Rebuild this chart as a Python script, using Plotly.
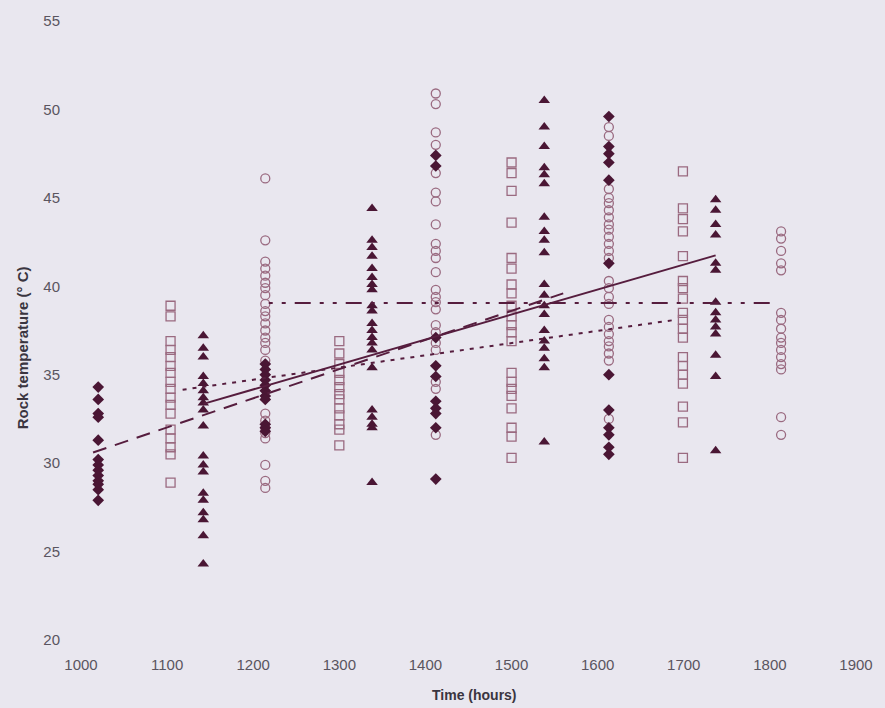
import plotly.graph_objects as go

# ---- data ----
diamond_times = [1020, 1214, 1412, 1613]
diamond_temps = [
    [34.3, 33.6, 32.8, 32.6, 31.3, 30.2, 29.9, 29.6, 29.3, 29.0, 28.8, 28.5, 27.9],
    [35.6, 35.3, 35.0, 34.7, 34.4, 34.1, 33.8, 33.6, 32.2, 32.0, 31.8],
    [47.4, 46.8, 37.1, 35.5, 34.9, 33.5, 33.1, 32.8, 32.0, 29.1],
    [49.6, 47.9, 47.5, 47.0, 46.0, 41.3, 35.0, 33.0, 32.0, 31.6, 30.9, 30.5],
]

square_times = [1104, 1300, 1500, 1699]
square_temps = [
    [38.9, 38.3, 36.9, 36.4, 36.0, 35.5, 35.1, 34.6, 34.2, 33.7, 33.3, 32.8, 31.9, 31.4, 30.9, 30.5, 28.9],
    [36.9, 36.2, 35.6, 35.1, 34.7, 34.3, 33.9, 33.6, 33.1, 32.7, 32.2, 31.9, 31.0],
    [47.0, 46.4, 45.4, 43.6, 41.6, 41.0, 40.1, 39.6, 38.9, 38.3, 37.8, 37.4, 36.9, 35.1, 34.6, 34.2, 33.8, 33.1, 32.0, 31.5, 30.3],
    [46.5, 44.4, 43.8, 43.1, 41.7, 40.3, 39.9, 39.3, 38.5, 38.1, 37.6, 37.1, 36.0, 35.5, 35.0, 34.5, 33.2, 32.3, 30.3],
]

triangle_times = [1142, 1338, 1538, 1737]
triangle_temps = [
    [37.2, 36.5, 36.0, 34.9, 34.5, 34.1, 33.7, 33.4, 33.0, 32.1, 30.4, 29.9, 29.5, 28.3, 27.9, 27.2, 26.8, 25.9, 24.3],
    [44.4, 42.6, 42.2, 41.7, 41.0, 40.5, 40.1, 39.8, 38.9, 38.6, 37.9, 37.5, 37.1, 36.8, 36.4, 35.4, 33.0, 32.6, 32.2, 32.0, 28.9],
    [50.5, 49.0, 47.9, 46.7, 46.3, 45.8, 43.9, 43.1, 42.6, 41.9, 40.1, 39.5, 38.9, 38.4, 37.5, 36.9, 36.5, 35.9, 35.4, 31.2],
    [44.9, 44.3, 43.5, 42.9, 41.3, 40.9, 39.1, 38.5, 38.1, 37.7, 37.3, 36.1, 34.9, 30.7],
]

circle_times = [1214, 1412, 1613, 1813]
circle_temps = [
    [46.1, 42.6, 41.4, 41.0, 40.6, 40.2, 39.9, 39.5, 39.0, 38.6, 38.3, 37.9, 37.5, 37.1, 36.8, 36.4, 35.8, 32.8, 32.4, 32.0, 31.7, 31.4, 29.9, 29.0, 28.6],
    [50.9, 50.3, 48.7, 48.0, 46.4, 45.3, 44.8, 43.5, 42.4, 42.0, 41.6, 40.8, 39.8, 39.4, 39.1, 38.7, 37.8, 37.4, 36.8, 36.4, 34.6, 34.2, 31.6],
    [49.0, 48.5, 45.5, 45.0, 44.7, 44.3, 43.9, 43.5, 43.2, 42.8, 42.4, 42.0, 41.6, 40.3, 39.9, 39.4, 39.0, 38.1, 37.7, 37.3, 36.9, 36.6, 36.2, 35.8, 32.5],
    [43.1, 42.7, 42.0, 41.3, 40.9, 38.5, 38.1, 37.6, 37.1, 36.8, 36.4, 36.0, 35.6, 35.3, 32.6, 31.6],
]

# trend lines (end points)
trend_diamond_x = [1014, 1560]
trend_diamond_y = [30.6, 39.6]
trend_square_x = [1118, 1690]
trend_square_y = [34.15, 38.1]
trend_triangle_x = [1142, 1737]
trend_triangle_y = [33.35, 41.75]
trend_circle_x = [1218, 1808]
trend_circle_y = [39.05, 39.05]

x_ticks = [1000, 1100, 1200, 1300, 1400, 1500, 1600, 1700, 1800, 1900]
y_ticks = [20, 25, 30, 35, 40, 45, 50, 55]

x_title = "Time (hours)"
y_title = "Rock temperature (° C)"


def flatten(times, temps):
    xs, ys = [], []
    for t, vals in zip(times, temps):
        xs += [t] * len(vals)
        ys += vals
    return xs, ys


DARK = "#4a1634"
MAUVE = "#9a6a80"
LINE = "#561d3e"
BG = "#e9e7ef"

fig = go.Figure()

cx, cy = flatten(circle_times, circle_temps)
fig.add_trace(go.Scatter(x=cx, y=cy, mode="markers", name="circles",
                         marker=dict(symbol="circle-open", size=9, color=MAUVE, line=dict(width=1.3, color=MAUVE))))
sx, sy = flatten(square_times, square_temps)
fig.add_trace(go.Scatter(x=sx, y=sy, mode="markers", name="squares",
                         marker=dict(symbol="square-open", size=9, color=MAUVE, line=dict(width=1.3, color=MAUVE))))
dx, dy = flatten(diamond_times, diamond_temps)
fig.add_trace(go.Scatter(x=dx, y=dy, mode="markers", name="diamonds",
                         marker=dict(symbol="diamond", size=9, color=DARK, line=dict(width=0))))
tx, ty = flatten(triangle_times, triangle_temps)
fig.add_trace(go.Scatter(x=tx, y=ty, mode="markers", name="triangles",
                         marker=dict(symbol="triangle-up", size=10, color=DARK, line=dict(width=0))))

fig.add_trace(go.Scatter(x=trend_diamond_x, y=trend_diamond_y, mode="lines",
                         line=dict(color=LINE, width=2, dash="14px,9px")))
fig.add_trace(go.Scatter(x=trend_square_x, y=trend_square_y, mode="lines",
                         line=dict(color=LINE, width=2, dash="4px,6px")))
fig.add_trace(go.Scatter(x=trend_triangle_x, y=trend_triangle_y, mode="lines",
                         line=dict(color=LINE, width=2, dash="solid")))
fig.add_trace(go.Scatter(x=trend_circle_x, y=trend_circle_y, mode="lines",
                         line=dict(color=LINE, width=2, dash="4px,9px,4px,9px,16px,9px")))

axis_font = dict(family="Liberation Sans, Arial, sans-serif", size=15, color="#5a5560")
title_font = dict(family="Liberation Sans, Arial, sans-serif", size=15, color="#3a3540")
fig.update_layout(
    width=885, height=708,
    paper_bgcolor=BG, plot_bgcolor=BG,
    margin=dict(l=81, r=19, t=20, b=68),
    showlegend=False,
    font=dict(family="Liberation Sans, Arial, sans-serif"),
    xaxis=dict(range=[1000, 1900], tickvals=x_ticks, ticktext=[str(v) for v in x_ticks],
               showgrid=False, zeroline=False, showline=False, ticks="",
               tickfont=axis_font, ticklabelstandoff=14),
    yaxis=dict(range=[20, 55], tickvals=y_ticks, ticktext=[str(v) for v in y_ticks],
               showgrid=False, zeroline=False, showline=False, ticks="",
               tickfont=axis_font, ticklabelstandoff=20),
    annotations=[
        dict(text="<b>%s</b>" % x_title, xref="paper", yref="paper",
             x=(480 - 81) / 785, y=-(695 - 640) / 620, xanchor="center", yanchor="middle",
             showarrow=False, font=dict(title_font, size=14)),
        dict(text="<b>%s</b>" % y_title, xref="paper", yref="paper", textangle=-90,
             x=(22 - 81) / 785, y=(640 - 347) / 620, xanchor="center", yanchor="middle",
             showarrow=False, font=title_font),
    ],
)

fig.write_html("out.html", config={"displayModeBar": False},
               post_script="document.body.style.margin='0';document.body.style.background='%s';" % BG)
